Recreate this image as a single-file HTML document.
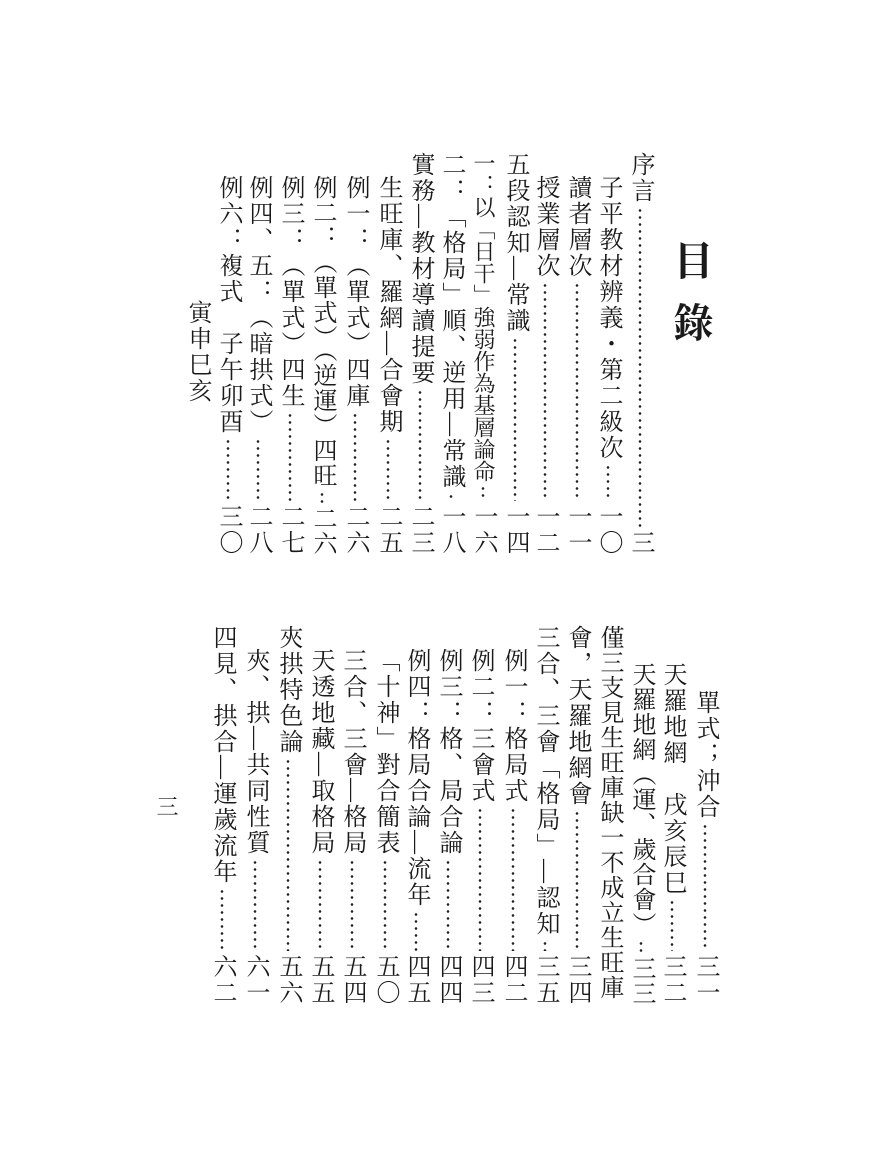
<!DOCTYPE html>
<html><head><meta charset="utf-8">
<style>
html,body{margin:0;padding:0;background:#fff;}
body{width:873px;height:1167px;position:relative;overflow:hidden;
font-family:"Liberation Serif","Noto Serif CJK SC","Noto Sans CJK TC",serif;color:#1a1a1a;}
.e{position:absolute;writing-mode:vertical-rl;display:flex;flex-wrap:nowrap;font-size:24px;line-height:32px;width:32px;letter-spacing:2px;}
.e span{white-space:nowrap;flex-shrink:0;}
.e .f{flex:1 1 auto;flex-shrink:1;background:radial-gradient(circle,#222 1.1px,transparent 1.5px) center top/8px 7px repeat-y;margin:3px 0;}
.t{position:absolute;writing-mode:vertical-rl;font-size:40px;font-weight:bold;line-height:46px;}
</style></head><body>
<div class="t" style="left:667px;top:240px;">目</div>
<div class="t" style="left:667px;top:302px;">錄</div>

<div class="e" style="left:624px;top:152px;height:404px;"><span>序言</span><span class="f"></span><span>三</span></div>
<div class="e" style="left:592px;top:175px;height:381px;"><span>子平教材辨義・第二級次</span><span class="f"></span><span>一〇</span></div>
<div class="e" style="left:561px;top:175px;height:381px;"><span>讀者層次</span><span class="f"></span><span>一一</span></div>
<div class="e" style="left:529px;top:175px;height:381px;"><span>授業層次</span><span class="f"></span><span>一二</span></div>
<div class="e" style="left:499px;top:152px;height:404px;"><span>五段認知—常識</span><span class="f"></span><span>一四</span></div>
<div class="e" style="left:467px;top:152px;height:404px;letter-spacing:0;font-size:22px;"><span>一：以「日干」強弱作為基層論命</span><span class="f"></span><span style="font-size:24px;letter-spacing:2px">一六</span></div>
<div class="e" style="left:435px;top:152px;height:404px;"><span>二：「格局」順、逆用—常識</span><span class="f"></span><span>一八</span></div>
<div class="e" style="left:404px;top:152px;height:404px;"><span>實務—教材導讀提要</span><span class="f"></span><span>二三</span></div>
<div class="e" style="left:372px;top:175px;height:381px;"><span>生旺庫、羅網—合會期</span><span class="f"></span><span>二五</span></div>
<div class="e" style="left:339px;top:175px;height:381px;"><span>例一：（單式）四庫</span><span class="f"></span><span>二六</span></div>
<div class="e" style="left:306px;top:175px;height:381px;letter-spacing:1px;"><span>例二：（單式）（逆運）四旺</span><span class="f"></span><span>二六</span></div>
<div class="e" style="left:274px;top:175px;height:381px;"><span>例三：（單式）四生</span><span class="f"></span><span>二七</span></div>
<div class="e" style="left:242px;top:175px;height:381px;"><span>例四、五：（暗拱式）</span><span class="f"></span><span>二八</span></div>
<div class="e" style="left:212px;top:175px;height:381px;"><span>例六：複式　子午卯酉</span><span class="f"></span><span>三〇</span></div>
<div class="e" style="left:181px;top:300px;height:120px;"><span>寅申巳亥</span></div>

<div class="e" style="left:689px;top:690px;height:316px;"><span>單式；沖合</span><span class="f"></span><span>三一</span></div>
<div class="e" style="left:656px;top:662px;height:344px;"><span>天羅地網　戌亥辰巳</span><span class="f"></span><span>三二</span></div>
<div class="e" style="left:625px;top:662px;height:344px;letter-spacing:1px;"><span>天羅地網（運、歲合會）</span><span class="f"></span><span>三三</span></div>
<div class="e" style="left:593px;top:625px;height:381px;letter-spacing:1px;"><span>僅三支見生旺庫缺一不成立生旺庫</span></div>
<div class="e" style="left:561px;top:625px;height:381px;"><span>會，天羅地網會</span><span class="f"></span><span>三四</span></div>
<div class="e" style="left:529px;top:625px;height:381px;"><span>三合、三會「格局」—認知</span><span class="f"></span><span>三五</span></div>
<div class="e" style="left:497px;top:648px;height:358px;"><span>例一：格局式</span><span class="f"></span><span>四二</span></div>
<div class="e" style="left:464px;top:648px;height:358px;"><span>例二：三會式</span><span class="f"></span><span>四三</span></div>
<div class="e" style="left:432px;top:648px;height:358px;"><span>例三：格、局合論</span><span class="f"></span><span>四四</span></div>
<div class="e" style="left:400px;top:648px;height:358px;"><span>例四：格局合論—流年</span><span class="f"></span><span>四五</span></div>
<div class="e" style="left:369px;top:648px;height:358px;"><span>「十神」對合簡表</span><span class="f"></span><span>五〇</span></div>
<div class="e" style="left:336px;top:648px;height:358px;"><span>三合、三會—格局</span><span class="f"></span><span>五四</span></div>
<div class="e" style="left:304px;top:648px;height:358px;"><span>天透地藏—取格局</span><span class="f"></span><span>五五</span></div>
<div class="e" style="left:272px;top:625px;height:381px;"><span>夾拱特色論</span><span class="f"></span><span>五六</span></div>
<div class="e" style="left:239px;top:648px;height:358px;"><span>夾、拱—共同性質</span><span class="f"></span><span>六一</span></div>
<div class="e" style="left:206px;top:625px;height:381px;"><span>四見、拱合—運歲流年</span><span class="f"></span><span>六二</span></div>

<div class="e" style="left:150px;top:795px;height:40px;font-size:22px;"><span>三</span></div>
</body></html>
